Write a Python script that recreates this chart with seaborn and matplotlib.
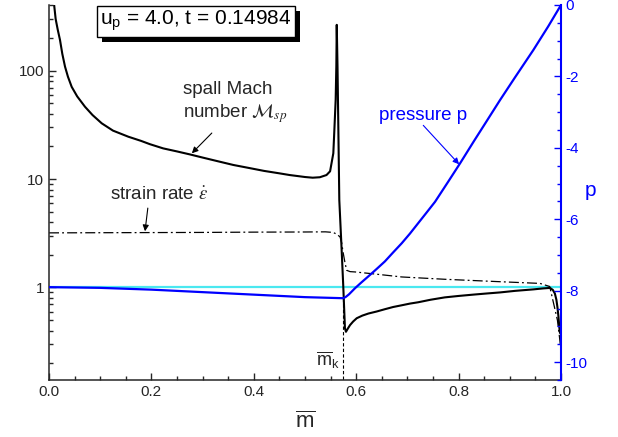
import numpy as np
import seaborn as sns
import matplotlib.pyplot as plt
import matplotlib.patheffects as pe
from matplotlib.ticker import LogLocator, MultipleLocator, FormatStrFormatter, NullFormatter

# spall Mach number (left, log axis)
mach_x = [0.0095, 0.0104, 0.013, 0.017, 0.0215, 0.026, 0.0313, 0.037, 0.0443, 0.055,
          0.0703, 0.085, 0.103, 0.125, 0.155, 0.18, 0.197, 0.223, 0.25, 0.275,
          0.30, 0.33, 0.36, 0.393, 0.42, 0.45, 0.47, 0.49, 0.50, 0.515,
          0.529, 0.542, 0.549, 0.5553, 0.557, 0.5599, 0.5612, 0.562, 0.5635, 0.567,
          0.5716, 0.5748, 0.578, 0.580, 0.584, 0.588, 0.594, 0.601, 0.612, 0.624,
          0.64, 0.656, 0.672, 0.689, 0.705, 0.721, 0.745, 0.773, 0.80, 0.83,
          0.855, 0.881, 0.91, 0.946, 0.965, 0.9785, 0.984, 0.988, 0.991, 0.993,
          0.995, 0.9967, 0.998]
mach_y = [430, 390, 300, 240, 192, 143, 109, 88, 71, 58,
          46.5, 39, 32.7, 28, 24.6, 22.5, 21.0, 19.2, 18.0, 16.9,
          15.8, 14.6, 13.5, 12.6, 11.9, 11.3, 10.9, 10.6, 10.45, 10.3,
          10.4, 10.9, 11.8, 17.3, 26, 54, 110, 265, 109, 6.4,
          2.21, 1.01, 0.42, 0.39, 0.42, 0.45, 0.485, 0.52, 0.55, 0.575,
          0.60, 0.63, 0.66, 0.685, 0.71, 0.73, 0.77, 0.81, 0.835, 0.86,
          0.88, 0.90, 0.93, 0.96, 0.98, 0.99, 0.95, 0.88, 0.77, 0.66,
          0.54, 0.43, 0.38]

# strain rate (left, log axis)
strain_x = [0.0, 0.1, 0.2, 0.3, 0.4, 0.5, 0.54, 0.555, 0.562, 0.5684, 0.5715, 0.5748,
            0.578, 0.5814, 0.588, 0.598, 0.637, 0.689, 0.773, 0.881, 0.959, 0.978,
            0.993, 0.997, 1.0]
strain_y = [3.19, 3.20, 3.21, 3.22, 3.24, 3.25, 3.26, 3.22, 3.1, 2.93, 2.6, 2.06,
            1.7, 1.44, 1.40, 1.39, 1.33, 1.25, 1.19, 1.13, 1.09, 1.02,
            0.5, 0.35, 0.26]

# reference level 1
ref_x = [0.0, 1.0]
ref_y = [1.0, 1.0]

# pressure (right axis)
press_x = [0.0, 0.1, 0.2, 0.3, 0.4, 0.5, 0.55, 0.5748, 0.58, 0.586, 0.5977, 0.61,
           0.6236, 0.64, 0.656, 0.672, 0.689, 0.705, 0.721, 0.737, 0.754, 0.78,
           0.803, 0.83, 0.85, 0.881, 0.91, 0.946, 0.975, 1.0]
press_y = [-7.90, -7.92, -7.97, -8.04, -8.11, -8.18, -8.20, -8.21, -8.17, -8.10, -7.93, -7.77,
           -7.60, -7.39, -7.18, -6.93, -6.67, -6.40, -6.11, -5.82, -5.51, -4.94,
           -4.43, -3.81, -3.36, -2.66, -2.03, -1.26, -0.60, 0.0]

mk_x = [0.5735, 0.5735]
mk_y = [0.1, 0.82]

xticks = [0.0, 0.2, 0.4, 0.6, 0.8, 1.0]
xticklabels = ['0.0', '0.2', '0.4', '0.6', '0.8', '1.0']
pticks = [0, -2, -4, -6, -8, -10]
pticklabels = ['0', '-2', '-4', '-6', '-8', '-10']

sns.set_style('ticks')
plt.rcParams['font.family'] = ['Liberation Sans', 'DejaVu Sans']
plt.rcParams['mathtext.fontset'] = 'custom'
plt.rcParams['mathtext.rm'] = 'Liberation Sans'
plt.rcParams['mathtext.it'] = 'Liberation Sans:italic'
plt.rcParams['mathtext.bf'] = 'Liberation Sans:bold'
plt.rcParams['mathtext.sf'] = 'Liberation Sans'
plt.rcParams['axes.unicode_minus'] = False

fig, ax = plt.subplots(figsize=(6.18, 4.37), dpi=100)
fig.subplots_adjust(left=49/618, right=561/618, top=1-5/437, bottom=1-380/437)
ax.set_yscale('log')

sns.lineplot(x=ref_x, y=ref_y, ax=ax, color='#4ae8f0', linewidth=1.6, estimator=None, sort=False)
sns.lineplot(x=strain_x, y=strain_y, ax=ax, color='black', linewidth=0.9,
             linestyle=(0, (8, 2.5, 1.5, 2.5)), estimator=None, sort=False)
sns.lineplot(x=mach_x, y=mach_y, ax=ax, color='black', linewidth=1.5, estimator=None, sort=False)
sns.lineplot(x=mk_x, y=mk_y, ax=ax, color='black', linewidth=0.8,
             linestyle=(0, (3, 2)), estimator=None, sort=False)

ax.set_xlim(0, 1)
ax.set_ylim(0.14, 404)
ax.yaxis.set_major_locator(LogLocator(base=10, numticks=10))
ax.yaxis.set_major_formatter(FormatStrFormatter('%g'))
ax.yaxis.set_minor_locator(LogLocator(base=10, subs=np.arange(2, 10), numticks=20))
ax.yaxis.set_minor_formatter(NullFormatter())
ax.set_xticks(xticks)
ax.set_xticklabels(xticklabels)
ax.xaxis.set_minor_locator(MultipleLocator(0.05))
ax.tick_params(which='both', direction='in', labelsize=11, width=1)
ax.tick_params(which='major', length=5)
ax.tick_params(which='minor', length=3)
ax.set_xlabel(r'$\overline{\mathrm{m}}$', fontsize=16, labelpad=9)
ax.set_ylabel('')
for s in ['top', 'right']:
    ax.spines[s].set_visible(False)
ax.spines['left'].set_linewidth(1.1)
ax.spines['bottom'].set_linewidth(1.1)

ax2 = ax.twinx()
sns.lineplot(x=press_x, y=press_y, ax=ax2, color='blue', linewidth=1.6, estimator=None, sort=False)
ax2.set_ylim(-10.5, 0)
ax2.set_yticks(pticks)
ax2.set_yticklabels(pticklabels)
ax2.yaxis.set_minor_locator(MultipleLocator(0.5))
ax2.tick_params(which='both', direction='in', colors='blue', labelsize=11, width=1)
ax2.tick_params(which='major', length=5)
ax2.tick_params(which='minor', length=3)
for s in ['top', 'left', 'bottom']:
    ax2.spines[s].set_visible(False)
ax2.spines['right'].set_color('blue')
ax2.spines['right'].set_linewidth(1.5)
ax2.set_ylabel('p', color='blue', fontsize=15, rotation=0)
ax2.yaxis.set_label_coords(1.057, 0.53)

# annotations
ax.annotate('spall Mach\n' + r'number $\mathcal{M}_{sp}$', xy=(0.262, 50), ha='left', va='center',
            fontsize=13.5, linespacing=1.25, math_fontfamily='stix')
ax.annotate('', xy=(0.279, 17.3), xytext=(0.318, 26.6),
            arrowprops=dict(arrowstyle='-|>', color='black', lw=0.8, mutation_scale=9,
                            shrinkA=0, shrinkB=0))
ax.annotate(r'strain rate $\dot{\varepsilon}$', xy=(0.215, 7.1), ha='center', va='center',
            fontsize=13.5, math_fontfamily='stix')
ax.annotate('', xy=(0.1875, 3.3), xytext=(0.193, 5.4),
            arrowprops=dict(arrowstyle='-|>', color='black', lw=0.8, mutation_scale=9,
                            shrinkA=0, shrinkB=0))
ax2.annotate('pressure p', xy=(0.645, -3.08), ha='left', va='center', fontsize=13.5, color='blue')
ax2.annotate('', xy=(0.801, -4.46), xytext=(0.731, -3.37),
             arrowprops=dict(arrowstyle='-|>', color='blue', lw=0.8, mutation_scale=9,
                             shrinkA=0, shrinkB=0))
ax.text(0.545, 0.215, r'$\overline{\mathrm{m}}_\mathrm{k}$', ha='center', va='center', fontsize=13)

# parameter box with drop shadow
label = r'u$_\mathrm{p}$ = 4.0, t = 0.14984'
box = ax.text(0.287, 0.957, label, transform=ax.transAxes, ha='center', va='center', fontsize=15,
              color='black', bbox=dict(boxstyle='square,pad=0.15', fc='white', ec='black', lw=1))
box.get_bbox_patch().set_path_effects([
    pe.SimplePatchShadow(offset=(3.6, -3.6), shadow_rgbFace='black', alpha=1.0),
    pe.Normal()])

fig.savefig('out.png', dpi=100)
